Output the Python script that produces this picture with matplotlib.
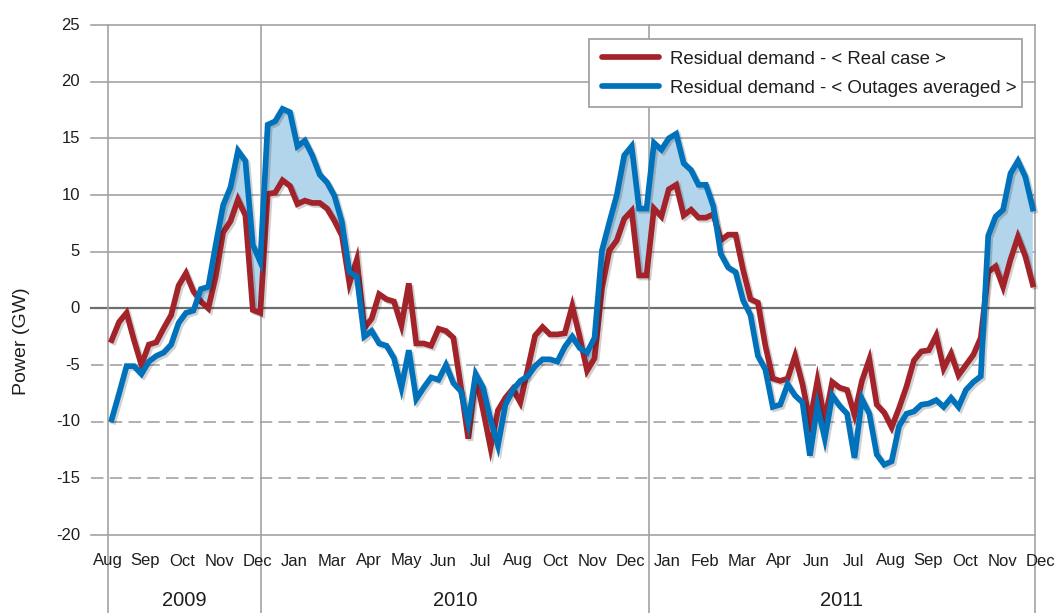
import numpy as np
import matplotlib
matplotlib.use("Agg")
import matplotlib.pyplot as plt
import matplotlib.patheffects as pe
from matplotlib.lines import Line2D
from matplotlib.patches import Rectangle

# ---------------- data (weekly, Aug 2009 - Dec 2011) ----------------
real_case = [
    -2.8, -1.2, -0.4, -2.8, -5.0, -3.2, -3.0, -1.75, -0.6, 2.0,
    3.1, 1.5, 0.6, 0.0, 2.8, 6.7, 7.7, 9.6, 8.2, -0.15,
    -0.4, 10.1, 10.2, 11.3, 10.8, 9.2, 9.5, 9.3, 9.3, 8.8,
    7.7, 6.4, 2.2, 4.3, -1.75, -0.9, 1.25, 0.8, 0.6, -1.5,
    2.2, -3.1, -3.1, -3.3, -1.8, -2.0, -2.6, -6.9, -11.5, -6.0,
    -9.0, -12.3, -9.0, -7.9, -7.1, -8.3, -5.4, -2.4, -1.65, -2.3,
    -2.3, -2.2, 0.2, -2.5, -5.5, -4.4, 1.75, 5.1, 6.0, 7.9,
    8.6, 2.9, 2.9, 8.8, 8.1, 10.5, 10.9, 8.2, 8.7, 8.0,
    8.0, 8.3, 6.0, 6.5, 6.5, 3.4, 0.8, 0.5, -3.3, -6.2,
    -6.4, -6.2, -4.2, -6.7, -10.0, -6.4, -9.9, -6.5, -7.0, -7.2,
    -9.4, -6.4, -4.5, -8.5, -9.2, -10.5, -8.8, -6.9, -4.6, -3.8,
    -3.7, -2.4, -5.3, -4.0, -5.9, -5.0, -4.1, -2.6, 3.2, 3.7,
    1.9, 4.3, 6.3, 4.6, 2.1,
]
outages_averaged = [
    -9.8, -7.5, -5.1, -5.1, -5.8, -4.7, -4.2, -3.9, -3.2, -1.3,
    -0.4, -0.2, 1.7, 1.9, 5.6, 9.1, 10.7, 13.9, 13.0, 5.6,
    4.1, 16.2, 16.5, 17.6, 17.3, 14.3, 14.8, 13.5, 11.8, 11.1,
    9.9, 7.6, 3.2, 2.8, -2.5, -2.0, -3.1, -3.3, -4.4, -7.0,
    -3.7, -8.0, -7.0, -6.1, -6.3, -5.0, -6.6, -7.3, -10.1, -5.8,
    -7.0, -9.8, -12.1, -8.5, -7.2, -6.4, -6.0, -5.1, -4.5, -4.5,
    -4.7, -3.4, -2.5, -3.5, -3.9, -2.6, 5.1, 7.6, 10.0, 13.5,
    14.3, 8.8, 8.8, 14.6, 14.0, 15.0, 15.4, 12.8, 12.2, 10.9,
    10.9, 9.0, 4.8, 3.6, 3.2, 0.7, -0.6, -4.2, -5.4, -8.7,
    -8.5, -6.7, -7.7, -8.3, -13.0, -8.6, -11.5, -7.7, -8.6, -9.3,
    -13.2, -8.0, -9.3, -12.9, -13.8, -13.5, -10.4, -9.3, -9.1, -8.5,
    -8.4, -8.1, -8.7, -7.9, -8.7, -7.2, -6.5, -6.0, 6.4, 8.1,
    8.7, 11.9, 13.0, 11.6, 8.8,
]
month_labels = ['Aug', 'Sep', 'Oct', 'Nov', 'Dec', 'Jan', 'Mar', 'Apr', 'May',
                'Jun', 'Jul', 'Aug', 'Oct', 'Nov', 'Dec', 'Jan', 'Feb', 'Mar',
                'Apr', 'Jun', 'Jul', 'Aug', 'Sep', 'Oct', 'Nov', 'Dec']
year_labels = ['2009', '2010', '2011']
y_ticks = [25, 20, 15, 10, 5, 0, -5, -10, -15, -20]
series_names = ['Residual demand - < Real case >',
                'Residual demand - < Outages averaged >']

# ---------------- style ----------------
RED = '#A3232A'
BLUE = '#0072BC'
FILL = '#B3D5EB'
GRID = '#A3A3A5'
ZERO = '#6E6E6E'
TXT = '#1E1E1E'
FONT = 'Liberation Sans'
NARROW = ['Liberation Sans Narrow', 'Liberation Sans']
plt.rcParams['font.family'] = [FONT, 'DejaVu Sans']
plt.rcParams['lines.scale_dashes'] = False

W, H = 1064, 613
fig = plt.figure(figsize=(W / 100, H / 100), dpi=100)
L, R, T, B = 108, 1035, 25, 535
ax = fig.add_axes([L / W, 1 - B / H, (R - L) / W, (B - T) / H])

x = np.arange(len(real_case))
red = np.array(real_case)
blue = np.array(outages_averaged)
x_left, x_right = -0.5, 124.3
ax.set_xlim(x_left, x_right)
ax.set_ylim(-20, 25)
for s in ax.spines.values():
    s.set_visible(False)
ax.set_xticks([])
ax.set_yticks([])

ytrans = ax.get_yaxis_transform()
xtrans = ax.get_xaxis_transform()
grid_x0 = (91 - L) / (R - L)

# horizontal gridlines
for v in y_ticks:
    if v == 0:
        ax.plot([grid_x0, 1], [v, v], transform=ytrans, color=ZERO, lw=1.6,
                clip_on=False, zorder=1)
    elif -20 < v < 0:
        ax.plot([grid_x0, 1], [v, v], transform=ytrans, color=GRID, lw=1.2,
                dashes=(9.0, 4.5), clip_on=False, zorder=1)
    else:
        ax.plot([grid_x0, 1], [v, v], transform=ytrans, color=GRID, lw=1.2,
                clip_on=False, zorder=1)
    ax.text((80 - L) / (R - L), v, str(v), transform=ytrans, ha='right',
            va='center', fontsize=12, color=TXT)

# vertical separators (axis edges and year boundaries)
y_bottom = -(H - B) / (B - T)
bounds = [x_left, 20.1, 72.3, x_right]
for xv in bounds:
    ax.plot([xv, xv], [1, y_bottom], transform=xtrans, color=GRID, lw=1.2,
            clip_on=False, zorder=1)

# month labels
for k, lab in enumerate(month_labels):
    ax.text(-0.5 + 5.02 * k, -(561 - B) / (B - T), lab, transform=xtrans,
            ha='center', va='center', fontsize=12, family=NARROW, color=TXT,
            clip_on=False)

# year labels
for k, lab in enumerate(year_labels):
    ax.text((bounds[k] + bounds[k + 1]) / 2, -(601 - B) / (B - T), lab,
            transform=xtrans, ha='center', va='center', fontsize=14.5,
            color=TXT, clip_on=False)

# fill and lines
ax.fill_between(x, red, blue, where=blue >= red, interpolate=True,
                color=FILL, lw=0, zorder=2)
shadow = [pe.SimpleLineShadow(offset=(1.5, -1.5), shadow_color='k', alpha=0.18),
          pe.Normal()]
ax.plot(x, red, color=RED, lw=4.1, solid_joinstyle='miter', zorder=3,
        path_effects=shadow, clip_on=False)
ax.plot(x, blue, color=BLUE, lw=4.1, solid_joinstyle='miter', zorder=4,
        path_effects=shadow, clip_on=False)

# legend: frame drawn as its own rectangle, entries placed inside it
fig.patches.append(Rectangle((589 / W, 1 - 107 / H), (1022 - 589) / W,
                             (107 - 39) / H, transform=fig.transFigure,
                             facecolor='white', edgecolor=GRID, lw=1.3,
                             zorder=9))
handles = [Line2D([], [], color=RED, lw=4.1, solid_capstyle='round'),
           Line2D([], [], color=BLUE, lw=4.1, solid_capstyle='round')]
leg = fig.legend(handles, series_names, loc='upper left',
                 bbox_to_anchor=(602 / W, 1 - 50.7 / H),
                 bbox_transform=fig.transFigure, fontsize=13.4,
                 handlelength=3.05, handletextpad=0.6, labelspacing=0.64,
                 borderpad=0, borderaxespad=0, frameon=False)
leg.set_zorder(10)
for t in leg.get_texts():
    t.set_color(TXT)

# y axis title
fig.text(22 / W, 1 - 341 / H, 'Power (GW)', rotation=90, ha='center',
         va='center', fontsize=14, color=TXT)

fig.savefig('out.png', dpi=100, facecolor='white')
